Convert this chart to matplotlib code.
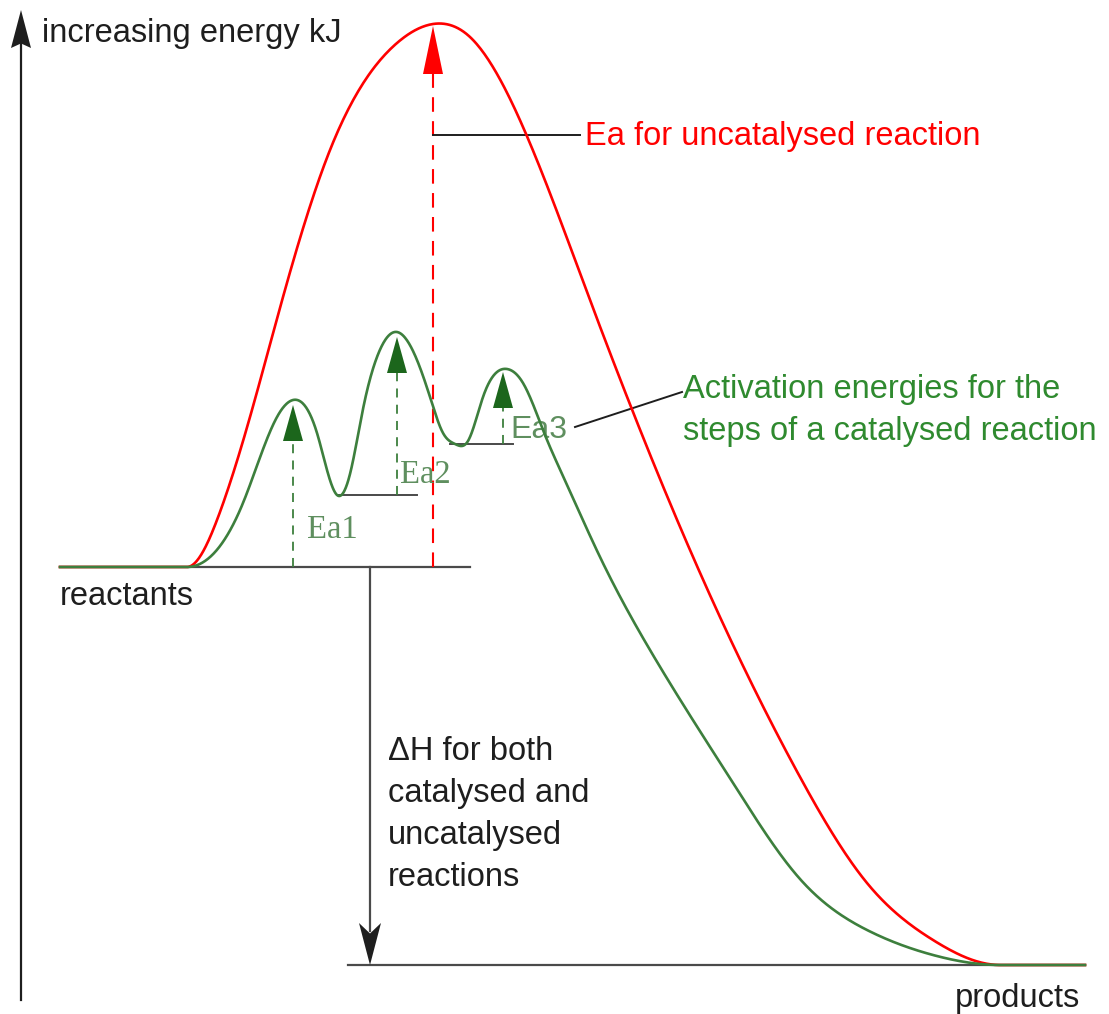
import numpy as np
import matplotlib.pyplot as plt

'''
Energy profile of a reaction with and without a catalyst.
x = progress of reaction, e = energy (both in picture units).
'''

# uncatalysed path (red), flat at both ends
red_x = [60, 187, 217, 250, 283, 330, 397, 433, 470, 523, 587, 690, 800, 867,
         933, 1000, 1085]
red_e = [447, 447, 494, 597, 717, 864, 971, 990, 977, 887, 722, 464, 237, 131,
         74, 49, 49]

# catalysed path, three steps (green)
green_x = [60, 187, 243, 277, 293, 317, 327, 337, 350, 363, 377, 397, 417,
           430, 443, 455, 468, 483, 497, 507, 523, 545, 563, 600, 650, 733, 800,
           867, 933, 1000, 1085]
green_e = [447, 447, 511, 597, 614, 581, 544, 519, 540, 605, 657, 682, 654,
           617, 581, 570, 573, 617, 642, 645, 631, 579, 538, 457, 364, 231, 135,
           84, 59, 49, 49]

reactants_e = 447
products_e = 49
uncat_peak_x = 433
uncat_peak_e = 990

# activation energy arrows of the catalysed steps
step_labels = ['Ea1', 'Ea2', 'Ea3']
step_x = [293, 397, 503]
step_base_e = [447, 519, 570]
step_tip_e = [609, 677, 642]

# intermediate levels (after step 1 and step 2)
inter_start = [337, 450]
inter_end = [417, 513]
inter_e = [519, 570]

dh_lines = ['\u0394H for both', 'catalysed and', 'uncatalysed', 'reactions']

RED = '#ff0000'
GREEN = '#3d7f3d'
DARK_GREEN = '#1c661c'
TEXT_GREEN = '#2f8a2f'
LABEL_GREEN = '#5f8f5f'
GREY = '#4a4a4a'
INK = '#1e1e1e'
FONT = ['Liberation Sans', 'DejaVu Sans']
SERIF = ['Liberation Serif', 'DejaVu Serif']
FS = 23.5


def smooth_path(x, y, n=40):
    # first and last segments are straight, the middle is a cubic spline
    # with zero slope where it leaves / joins the flat levels
    x = np.asarray(x, float)
    y = np.asarray(y, float)
    cx, cy = x[1:-1], y[1:-1]
    h = np.diff(cx)
    d = np.diff(cy) / h
    k = len(cx)
    A = np.zeros((k, k))
    r = np.zeros(k)
    A[0, 0] = A[-1, -1] = 1.0
    for i in range(1, k - 1):
        A[i, i - 1] = h[i]
        A[i, i] = 2 * (h[i - 1] + h[i])
        A[i, i + 1] = h[i - 1]
        r[i] = 3 * (h[i] * d[i - 1] + h[i - 1] * d[i])
    m = np.linalg.solve(A, r)
    xs, ys = [[x[0]]], [[y[0]]]
    for i in range(k - 1):
        t = np.linspace(0, 1, n, endpoint=False)
        h00 = 2 * t**3 - 3 * t**2 + 1
        h10 = t**3 - 2 * t**2 + t
        h01 = -2 * t**3 + 3 * t**2
        h11 = t**3 - t**2
        xs.append(cx[i] + t * h[i])
        ys.append(h00 * cy[i] + h10 * h[i] * m[i] + h01 * cy[i + 1] + h11 * h[i] * m[i + 1])
    xs.append([cx[-1], x[-1]])
    ys.append([cy[-1], y[-1]])
    return np.concatenate(xs), np.concatenate(ys)


def head(ax, x, tip, length, width, color, notch=0.0):
    # arrow head, pointing up for length > 0 and down for length < 0
    base = tip - length
    px = [x, x - width / 2, x, x + width / 2]
    py = [tip, base, base + length * notch, base]
    ax.fill(px, py, color=color, lw=0, zorder=5)


fig = plt.figure(figsize=(11.09, 10.14), dpi=100)
ax = fig.add_axes([0, 0, 1, 1])
ax.set_xlim(0, 1109)
ax.set_ylim(0, 1014)
ax.set_axis_off()

# energy axis
ax.plot([21, 21], [14, 976], color=INK, lw=1.6)
head(ax, 21, 1004, 38, 20, INK, notch=0.12)
ax.text(42, 972, 'increasing energy kJ', fontsize=FS, family=FONT, color=INK)

# reactant and product levels
ax.plot([60, 470], [reactants_e, reactants_e], color=GREY, lw=1.6, zorder=1)
ax.plot([348, 1085], [products_e, products_e], color=GREY, lw=1.6, zorder=1)
for xs, xe, e in zip(inter_start, inter_end, inter_e):
    ax.plot([xs, xe], [e, e], color=GREY, lw=1.4, zorder=1)

# the two paths
rx, ry = smooth_path(red_x, red_e)
ax.plot(rx, ry, color=RED, lw=1.9, zorder=3)
gx, gy = smooth_path(green_x, green_e)
ax.plot(gx, gy, color=GREEN, lw=1.9, zorder=4)

# Ea of the uncatalysed reaction
ax.plot([uncat_peak_x, uncat_peak_x], [reactants_e, uncat_peak_e - 46],
        color=RED, lw=1.5, dashes=(7, 4.5), zorder=2)
head(ax, uncat_peak_x, uncat_peak_e - 2, 48, 20, RED)
ax.plot([uncat_peak_x, 580], [879, 879], color=INK, lw=1.4, zorder=2)
ax.text(585, 869, 'Ea for uncatalysed reaction', fontsize=FS, family=FONT, color=RED)

# Ea of each catalysed step
for x, b, t in zip(step_x, step_base_e, step_tip_e):
    ax.plot([x, x], [b, t - 34], color=GREEN, lw=1.3, dashes=(5, 4), zorder=2)
    head(ax, x, t, 36, 20, DARK_GREEN)

ax.text(307, 476, step_labels[0], fontsize=FS, family=SERIF, color=LABEL_GREEN)
ax.text(400, 531, step_labels[1], fontsize=FS, family=SERIF, color=LABEL_GREEN)
ax.text(510, 576, step_labels[2], fontsize=FS - 0.5, family=FONT, color=LABEL_GREEN)

ax.plot([575, 682], [587, 622], color=INK, lw=1.4, zorder=2)
ax.text(683, 616, 'Activation energies for the', fontsize=FS, family=FONT, color=TEXT_GREEN)
ax.text(683, 574, 'steps of a catalysed reaction', fontsize=FS, family=FONT, color=TEXT_GREEN)

# enthalpy change
ax.plot([370, 370], [reactants_e, products_e + 34], color=GREY, lw=1.6, zorder=2)
head(ax, 370, products_e, -42, 22, INK, notch=0.25)
for k, line in enumerate(dh_lines):
    ax.text(388, 254 - 42 * k, line, fontsize=FS, family=FONT, color=INK)

ax.text(60, 409, 'reactants', fontsize=FS, family=FONT, color=INK)
ax.text(955, 7, 'products', fontsize=FS, family=FONT, color=INK)

plt.savefig('out.png', dpi=100)
